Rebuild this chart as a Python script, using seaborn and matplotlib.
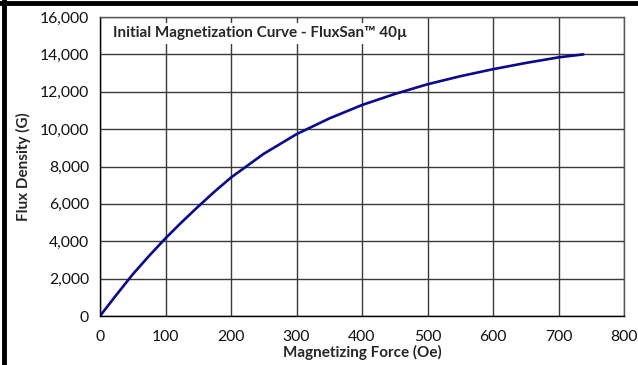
import matplotlib
matplotlib.use("Agg")
import matplotlib.pyplot as plt
from matplotlib.lines import Line2D
from matplotlib.ticker import FuncFormatter, MultipleLocator
import seaborn as sns
import pandas as pd

# Data
force_oe = [0, 25, 50, 75, 100, 125, 150, 175, 200, 250, 300, 350, 400, 450, 500, 550, 600, 650, 700, 738]
flux_g = [0, 1130, 2230, 3220, 4160, 5030, 5860, 6660, 7410, 8680, 9730, 10570, 11290, 11880, 12400, 12830, 13207, 13540, 13840, 14000]

title_text = "Initial Magnetization Curve - FluxSan\u2122 40\u00b5"
xlabel_text = "Magnetizing Force (Oe)"
ylabel_text = "Flux Density (G)"

sns.set_style("white")
plt.rcParams["font.family"] = ["Lato", "DejaVu Sans"]

fig = plt.figure(figsize=(6.38, 3.65), dpi=100)
ax = fig.add_axes([100 / 638, 1 - 316 / 365, 524 / 638, 299 / 365])

df = pd.DataFrame({"x": force_oe, "y": flux_g})
sns.lineplot(data=df, x="x", y="y", ax=ax, color="#0a0a8c", linewidth=1.9)

ax.set_xlim(0, 800)
ax.set_ylim(0, 16000)
ax.xaxis.set_major_locator(MultipleLocator(100))
ax.yaxis.set_major_locator(MultipleLocator(2000))
ax.yaxis.set_major_formatter(FuncFormatter(lambda v, p: f"{int(v):,}"))
ax.grid(True, color="#3a3a3a", linewidth=1.0)
ax.set_axisbelow(True)

for s in ["top", "right"]:
    ax.spines[s].set_color("#555555")
    ax.spines[s].set_linewidth(1.0)
for s in ["left", "bottom"]:
    ax.spines[s].set_color("black")
    ax.spines[s].set_linewidth(1.0)

ax.tick_params(axis="both", which="major", direction="out", length=5, width=1,
               color="black", labelsize=11.3, labelcolor="#111111", pad=3)
ax.tick_params(axis="x", pad=5)

ax.set_xlabel(xlabel_text, fontsize=11, fontweight="bold", labelpad=1)
ax.set_ylabel(ylabel_text, fontsize=11, fontweight="bold", labelpad=6)

ax.text(0.025, 0.946, title_text, transform=ax.transAxes, fontsize=11,
        fontweight="bold", ha="left", va="center",
        bbox=dict(facecolor="white", edgecolor="none", pad=2.5))

# thick frame lines at top and left of the figure
fig.add_artist(Line2D([0, 1], [1 - 2.5 / 365, 1 - 2.5 / 365], transform=fig.transFigure,
                      color="black", linewidth=3.5))
fig.add_artist(Line2D([3.5 / 638, 3.5 / 638], [0, 1], transform=fig.transFigure,
                      color="black", linewidth=3.5))

fig.savefig("out.png", dpi=100)
